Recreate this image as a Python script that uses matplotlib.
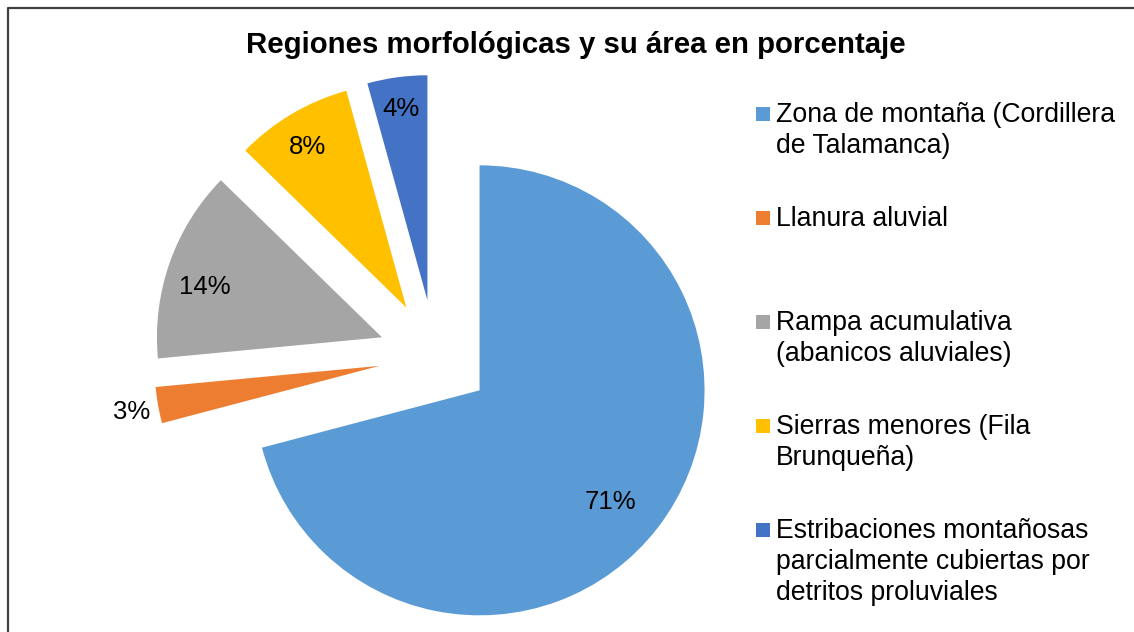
import numpy as np
import matplotlib
matplotlib.use("Agg")
import matplotlib.pyplot as plt
from matplotlib.patches import Rectangle
from matplotlib.lines import Line2D

plt.rcParams['font.family'] = ['Liberation Sans', 'DejaVu Sans']

# datos
regiones = ['Zona de montaña (Cordillera\nde Talamanca)',
            'Llanura aluvial',
            'Rampa acumulativa\n(abanicos aluviales)',
            'Sierras menores (Fila\nBrunqueña)',
            'Estribaciones montañosas\nparcialmente cubiertas por\ndetritos proluviales']
porcentajes = [70.9, 2.6, 13.8, 8.4, 4.3]
colores = ['#5B9BD5', '#ED7D31', '#A5A5A5', '#FFC000', '#4472C4']

# posicion de cada etiqueta respecto al vértice de su sector (radios, grados)
dist_etiqueta = [0.76, 1.12, 0.82, 0.845, 0.87]
giro_etiqueta = [-2.2, 0, 2.7, 0.6, 0]

W, H = 1134, 632
fig = plt.figure(figsize=(W / 100, H / 100), dpi=100)

# centro del pastel (px) y radio (px)
cx, cy, R = 435, 356, 225
ax = fig.add_axes([0, 0, 1, 1])
wedges, _ = ax.pie(porcentajes, explode=[0.25] * len(porcentajes), colors=colores,
                   startangle=90, counterclock=False, radius=1,
                   wedgeprops=dict(linewidth=0))
ax.set_aspect('auto')
ax.set_xlim(-cx / R, (W - cx) / R)
ax.set_ylim((cy - H) / R, cy / R)
ax.axis('off')

for w, p, d, g in zip(wedges, porcentajes, dist_etiqueta, giro_etiqueta):
    ang = np.radians((w.theta1 + w.theta2) / 2 + g)
    x = w.center[0] + d * np.cos(ang)
    y = w.center[1] + d * np.sin(ang)
    ax.text(x, y, f'{p:.0f}%', ha='center', va='center_baseline', fontsize=18.5, color='black')

# titulo
fig.text(575.5 / W, 1 - 53 / H, 'Regiones morfológicas y su área en porcentaje',
         ha='center', va='baseline', fontsize=21.2, fontweight='bold')

# leyenda
x_txt, y0, paso, interlinea = 776, 122, 104, 31
for i, (lab, col) in enumerate(zip(regiones, colores)):
    yb = y0 + i * paso
    fig.patches.append(Rectangle((756 / W, 1 - (yb - 1) / H), 14 / W, 14 / H,
                                 transform=fig.transFigure, facecolor=col,
                                 edgecolor='none'))
    for j, linea in enumerate(lab.split('\n')):
        fig.text(x_txt / W, 1 - (yb + j * interlinea) / H, linea,
                 ha='left', va='baseline', fontsize=19.2, color='black')

# borde del grafico
fig.lines.append(Line2D([7.5 / W, 7.5 / W, 1], [0, 1 - 7.5 / H, 1 - 7.5 / H],
                        transform=fig.transFigure, color='#404040', linewidth=1.6))

fig.savefig('out.png', dpi=100)
